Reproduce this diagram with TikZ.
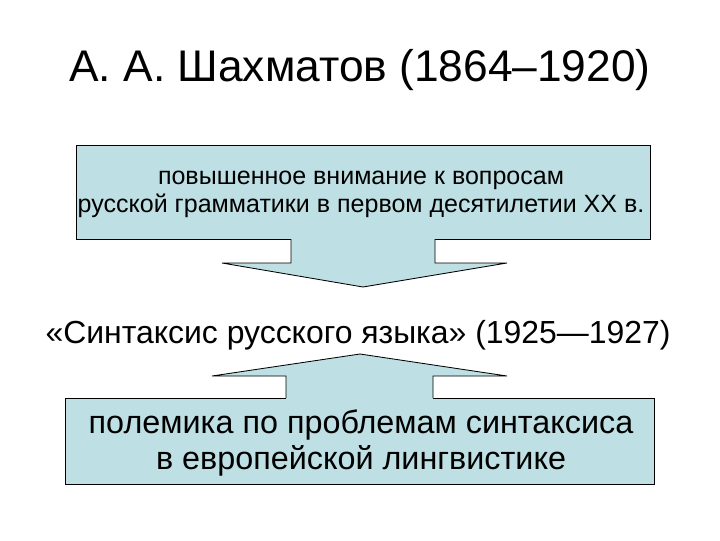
\documentclass[tikz,border=0pt]{standalone}
\usepackage{fontspec}
\setmainfont{Liberation Sans}
\usetikzlibrary{positioning}
\definecolor{calloutfill}{RGB}{190,224,228}

\tikzset{
  callout/.style={draw=black, fill=calloutfill, line width=0.6pt, inner sep=0pt},
  outline/.style={draw=black, line width=0.6pt, line join=miter},
}

\begin{document}
\begin{tikzpicture}[x=0.025cm,y=-0.025cm]
   \useasboundingbox (0,0) rectangle (720,540);

   % title
   \node (title) at (360,70) {\fontsize{31.5}{36}\selectfont А. А. Шахматов (1864–1920)};

   % upper box with down arrow
   \node[callout, minimum width=14.35cm, minimum height=2.35cm] (cause) at (363,192) {};
   \fill[calloutfill] (291,238) -- (291,263) -- (222,263) -- (363,287) -- (507,263) -- (435,263) -- (435,238) -- cycle;
   \draw[outline] (291,239) -- (291,263) -- (222,263) -- (363,287) -- (507,263) -- (435,263) -- (435,239);
   \node[align=center, font=\fontsize{17.8}{20}\selectfont] (causetext) at (361,194)
      {повышенное внимание к вопросам\\русской грамматики в первом десятилетии XX в.};

   % the book
   \node (book) at (358,335) {\fontsize{22.7}{26}\selectfont «Синтаксис русского языка» (1925—1927)};

   % lower box with up arrow
   \node[callout, minimum width=14.725cm, minimum height=2.15cm] (polemic) at (359.5,441) {};
   \fill[calloutfill] (286,399) -- (286,376) -- (212,376) -- (360,354) -- (507,376) -- (433,376) -- (433,399) -- cycle;
   \draw[outline] (286,398) -- (286,376) -- (212,376) -- (360,354) -- (507,376) -- (433,376) -- (433,398);
   \node[align=center, font=\fontsize{23}{26.2}\selectfont] (polemictext) at (361,443)
      {полемика по проблемам синтаксиса\\в европейской лингвистике};

\end{tikzpicture}
\end{document}
